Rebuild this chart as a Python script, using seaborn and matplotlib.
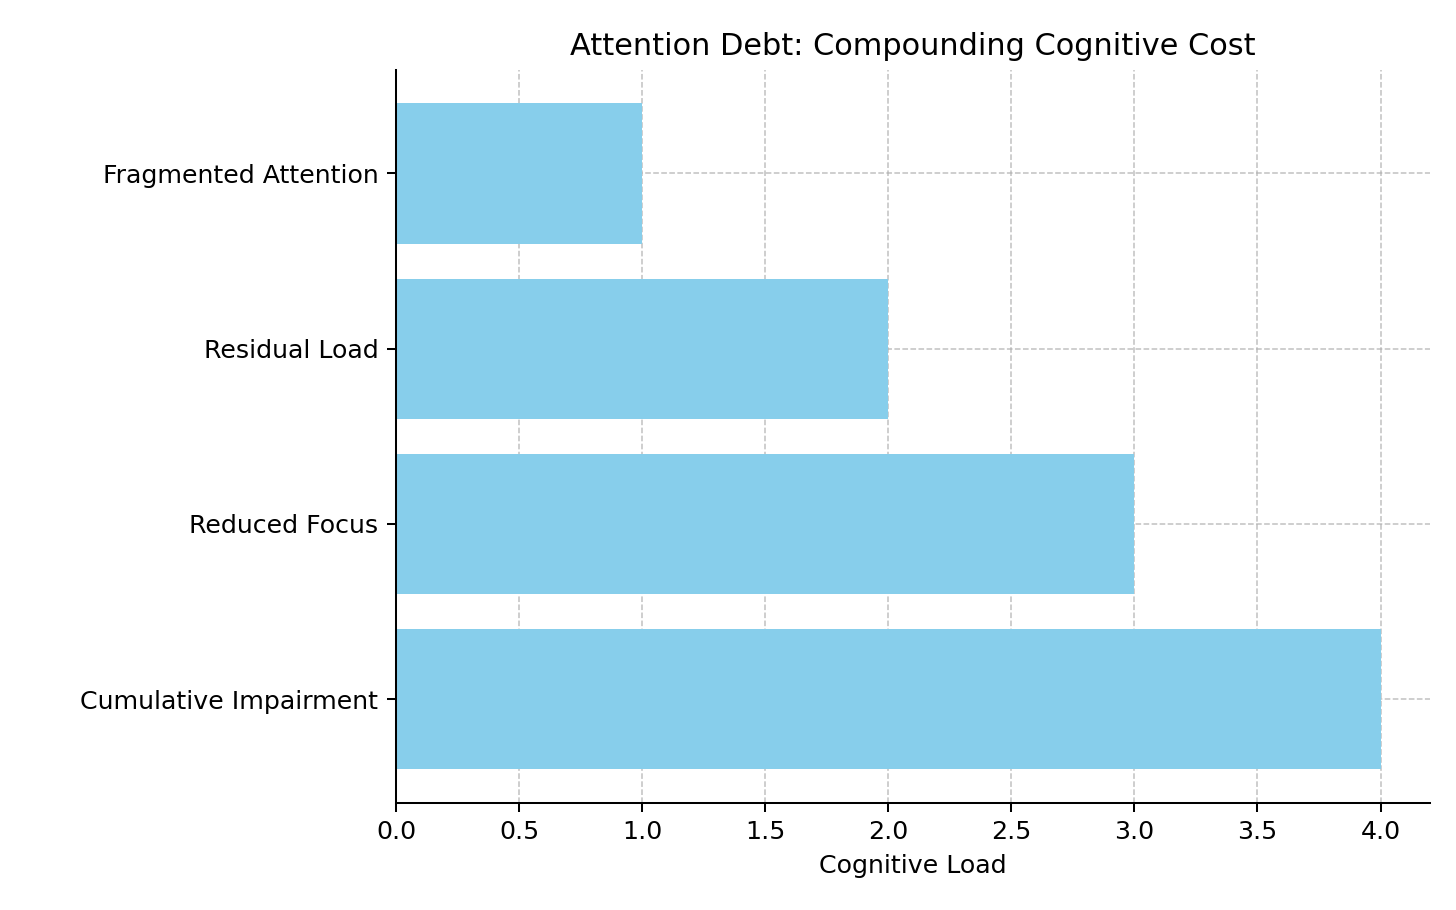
import matplotlib
matplotlib.use("Agg")
import matplotlib.pyplot as plt
import seaborn as sns
import pandas as pd

stages = ["Fragmented Attention", "Residual Load", "Reduced Focus", "Cumulative Impairment"]
load = [1, 2, 3, 4]

df = pd.DataFrame({"stage": stages, "load": load})
fig = plt.figure(figsize=(8, 5), dpi=182)
ax = fig.add_axes([0.272, 0.118, 0.71, 0.805])
sns.barplot(data=df, x="load", y="stage", orient="h", color="skyblue", saturation=1, width=0.8, ax=ax, zorder=2)
ax.set_ylim(3.59, -0.59)
ax.set_xlim(0, 4.2)
ax.grid(True, linestyle="--", color="#b0b0b0", alpha=0.8, linewidth=0.6, zorder=0)
ax.set_axisbelow(True)
for s in ["top", "right"]:
    ax.spines[s].set_visible(False)
ax.set_xlabel("Cognitive Load", fontsize=10)
ax.set_ylabel("")
ax.set_title("Attention Debt: Compounding Cognitive Cost", fontsize=12)
ax.tick_params(labelsize=10)
fig.savefig("out.png", dpi=182)
